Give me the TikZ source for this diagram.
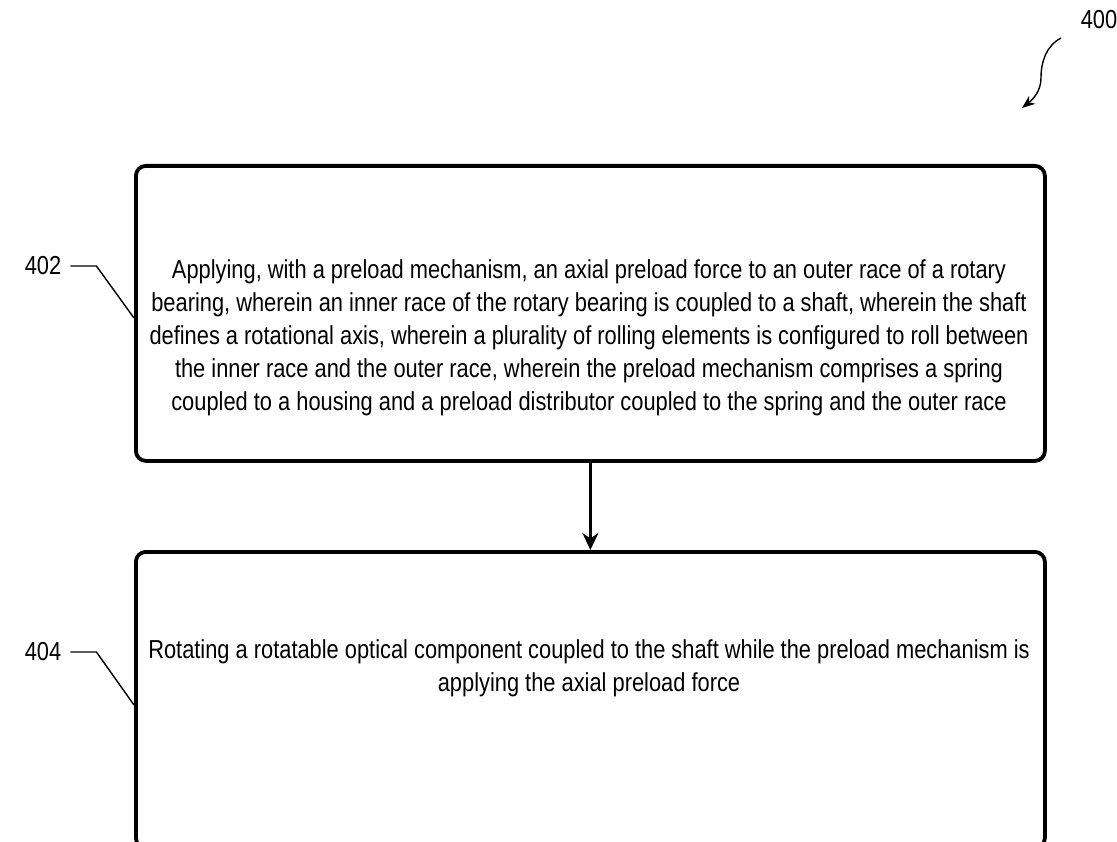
\documentclass[tikz,border=0pt]{standalone}
\usepackage{fontspec}
\setmainfont{Liberation Sans}[FakeStretch=0.84]
\usetikzlibrary{positioning, arrows.meta}

\begin{document}
\begin{tikzpicture}[x=1pt, y=-1pt,
		stepbox/.style={draw, rectangle, rounded corners=10pt, line width=3.8pt,
			minimum width=909pt, anchor=north west, inner sep=0pt},
		steptext/.style={align=center, inner sep=0pt,
			font=\fontsize{26}{33}\selectfont},
		reflabel/.style={inner sep=0pt, font=\fontsize{26}{33}\selectfont},
		leader/.style={line width=1.4pt},
		arrow/.style={-{Stealth[length=17pt, width=16pt]}, line width=3.8pt},
		]
		\useasboundingbox (0,0) rectangle (1117,842);
		
		\node[stepbox, minimum height=295pt] (s402) at (134,164) {};
		\node[stepbox, minimum height=296pt] (s404) at (134,550) {};
		
		\node[steptext] (t402) at (589,338) {Applying, with a preload mechanism, an axial preload force to an outer race of a rotary\\
			bearing, wherein an inner race of the rotary bearing is coupled to a shaft, wherein the shaft\\
			defines a rotational axis, wherein a plurality of rolling elements is configured to roll between\\
			the inner race and the outer race, wherein the preload mechanism comprises a spring\\
			coupled to a housing and a preload distributor coupled to the spring and the outer race};
		\node[steptext] (t404) at (589,668) {Rotating a rotatable optical component coupled to the shaft while the preload mechanism is\\
			applying the axial preload force};
		
		\draw[arrow] (s402.south) -- (s404.north);
		
		% reference numerals
		\node[reflabel] (l400) at (1099,20) {400};
		\node[reflabel] (l402) at (43,266) {402};
		\node[reflabel] (l404) at (43,652) {404};
		
		\coordinate (c400) at (1061,38);
		\coordinate (a400) at (1022,108);
		\draw[leader, -{Stealth[length=13pt, width=10pt, inset=4pt]}] (c400)
		.. controls (1046,46) and (1041,62) .. (1041,78)
		.. controls (1041,92) and (1032,100) .. (a400);
		\draw[leader] ([xshift=9pt]l402.east) -- ++(26,0) -- (s402.west |- 0,318);
		\draw[leader] ([xshift=9pt]l404.east) -- ++(26,0) -- (s404.west |- 0,705);
		
	\end{tikzpicture}
\end{document}
